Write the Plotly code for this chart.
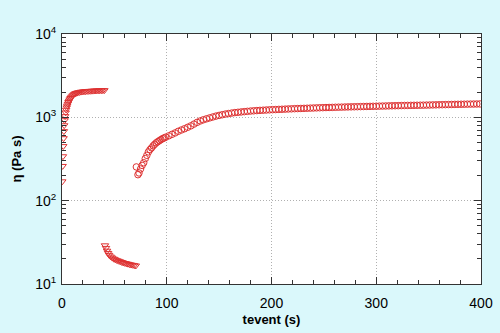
import plotly.graph_objects as go

# Segment 1: build-up (triangles)
t1 = [0.3, 0.6, 0.9, 1.2, 1.5, 1.8, 2.1, 2.5, 3, 3.5, 4, 4.5, 5, 5.6, 6.2, 6.8, 7.5, 8.2, 9, 10,
      11, 12, 13, 14, 15, 16.5, 18, 19.5, 21, 22.5, 24, 25.5, 27, 28.5, 30, 31.5, 33, 34.5, 36,
      37.5, 39, 40.5]
eta1 = [170, 260, 340, 450, 560, 680, 800, 920, 1030, 1140, 1230, 1310, 1380, 1450, 1520, 1580,
        1640, 1700, 1760, 1820, 1870, 1910, 1940, 1960, 1980, 2000, 2020, 2030, 2040, 2050, 2060,
        2065, 2070, 2075, 2080, 2085, 2090, 2095, 2100, 2100, 2105, 2110]

# Segment 2: high shear (triangles)
t2 = [41, 42, 43, 44, 45, 46.5, 48, 49.5, 51, 52.5, 54, 55.5, 57, 58.5, 60, 61.5, 63, 64.5, 66,
      67.5, 69, 70.5]
eta2 = [29, 27, 25, 23.5, 22.3, 21.3, 20.6, 20.0, 19.6, 19.2, 18.9, 18.6, 18.3, 18.0, 17.8, 17.6,
        17.4, 17.2, 17.0, 16.9, 16.7, 16.6]

# Segment 3: recovery (circles)
t3 = [71, 72.5, 73.5, 75, 76.5, 78, 79.5, 81, 82.5, 84, 85.5, 87, 88.5, 90, 91.5, 93, 94.5, 96,
      97.5, 99, 102, 105, 108, 111, 114, 117, 120, 123, 126, 129, 132, 135, 138, 141, 144, 147,
      150, 153, 156, 159, 162, 165, 168, 171, 174, 177, 180, 183, 186, 189, 192, 195, 198, 201,
      204, 207, 210, 213, 216, 219, 222, 225, 228, 231, 234, 237, 240, 243, 246, 249, 252, 255,
      258, 261, 264, 267, 270, 273, 276, 279, 282, 285, 288, 291, 294, 297, 300, 303, 306, 309,
      312, 315, 318, 321, 324, 327, 330, 333, 336, 339, 342, 345, 348, 351, 354, 357, 360, 363,
      366, 369, 372, 375, 378, 381, 384, 387, 390, 393, 396, 399]
eta3 = [254, 205, 215, 240, 265, 285, 320, 350, 385, 410, 430, 455, 475, 495, 510, 525, 540, 555,
        565, 578, 600, 625, 650, 680, 705, 730, 760, 790, 830, 870, 905, 935, 960, 985, 1010,
        1035, 1055, 1075, 1095, 1110, 1125, 1140, 1150, 1160, 1170, 1180, 1190, 1198, 1205, 1212,
        1218, 1224, 1230, 1236, 1240, 1245, 1250, 1255, 1260, 1265, 1270, 1274, 1278, 1282, 1286,
        1290, 1294, 1298, 1302, 1306, 1310, 1313, 1316, 1320, 1323, 1326, 1330, 1333, 1336, 1339,
        1342, 1345, 1348, 1351, 1354, 1357, 1360, 1363, 1366, 1369, 1372, 1375, 1378, 1381, 1384,
        1387, 1390, 1392, 1394, 1396, 1398, 1400, 1403, 1406, 1409, 1412, 1415, 1418, 1421, 1424,
        1427, 1430, 1433, 1435, 1437, 1440, 1442, 1444, 1446, 1448]

y_tickvals = [10, 100, 1000, 10000]
y_ticktext = ["10<sup>1</sup>", "10<sup>2</sup>", "10<sup>3</sup>", "10<sup>4</sup>"]
x_tickvals = [0, 100, 200, 300, 400]
x_ticktext = ["0", "100", "200", "300", "400"]

red = "rgb(222,50,50)"

fig = go.Figure()
for t, e, sym in [(t1, eta1, "triangle-down-open"), (t2, eta2, "triangle-down-open"),
                  (t3, eta3, "circle-open")]:
    fig.add_trace(go.Scatter(x=t, y=e, mode="markers",
                             marker=dict(symbol=sym, size=6.5, color=red, line=dict(width=1, color=red)),
                             showlegend=False))

font = dict(family="Liberation Sans, Arial, sans-serif", size=14, color="black")
title_font = dict(family=font["family"], size=13, color="black")
axis_common = dict(
    showline=True, linecolor="#333", linewidth=1, mirror="allticks",
    ticks="inside", ticklen=7, tickcolor="#333",
    showgrid=True, gridcolor="#b0b0b0", griddash="1px,2px", gridwidth=1,
    zeroline=False, tickfont=font, automargin=False,
)
fig.update_xaxes(range=[0, 400], tickvals=x_tickvals, ticktext=x_ticktext, ticklabelstandoff=6,
                 title=dict(text="<b>tevent (s)</b>", font=title_font, standoff=5),
                 minor=dict(ticks="inside", ticklen=4, dtick=20, tickcolor="#333", showgrid=False),
                 **axis_common)
fig.update_yaxes(type="log", range=[1, 4], tickvals=y_tickvals, ticktext=y_ticktext, ticklabelstandoff=2,
                 title=dict(text="<b>η (Pa s)</b>", font=title_font, standoff=10),
                 minor=dict(ticks="inside", ticklen=4, tickcolor="#333", showgrid=False,
                            tickvals=[20, 30, 40, 50, 60, 70, 80, 90, 200, 300, 400, 500, 600, 700, 800, 900,
                                      2000, 3000, 4000, 5000, 6000, 7000, 8000, 9000]),
                 **axis_common)

fig.update_layout(
    width=500, height=333,
    margin=dict(l=62, r=19, t=34, b=49),
    paper_bgcolor="rgb(218,248,251)",
    plot_bgcolor="white",
    font=font,
)
fig.write_html("out.html")
